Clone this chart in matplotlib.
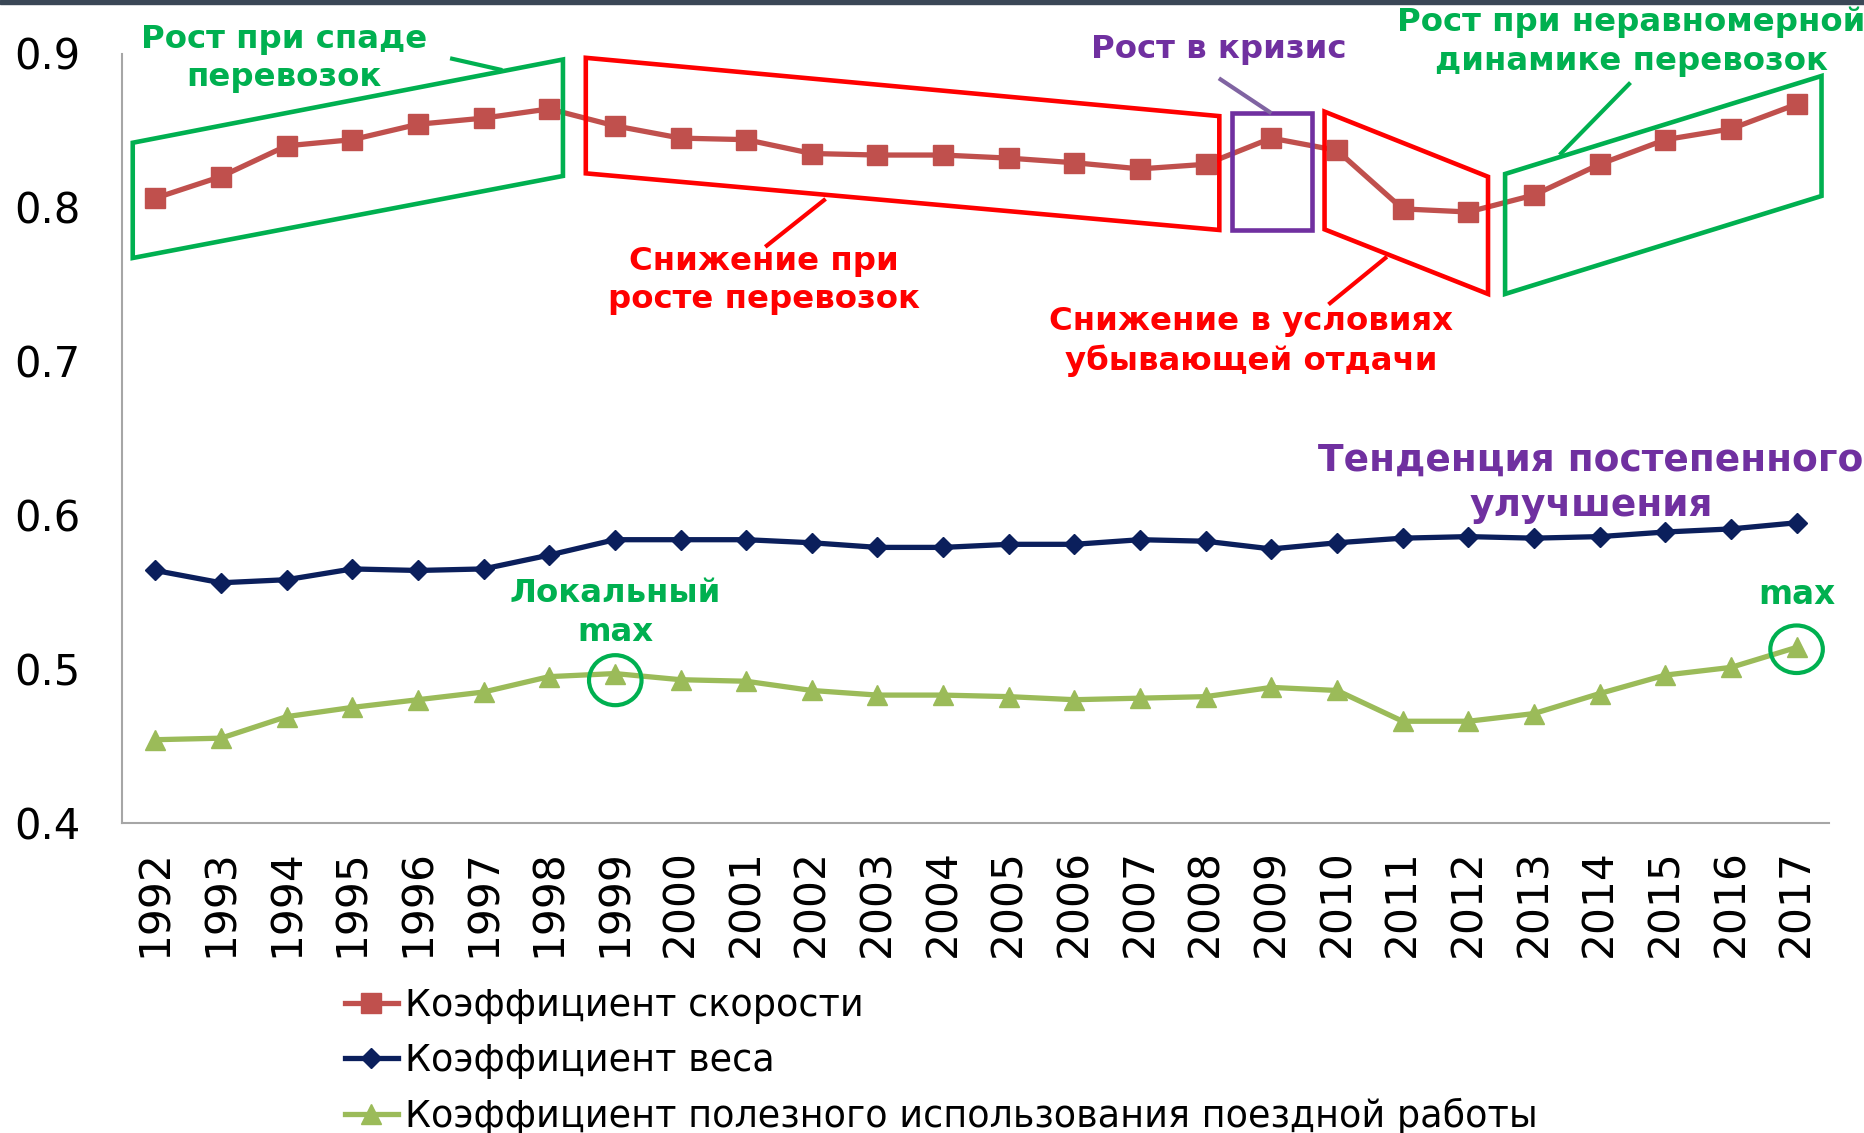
import matplotlib
matplotlib.use("Agg")
import matplotlib.pyplot as plt
from matplotlib.patches import Polygon, Ellipse, Rectangle

years = [str(y) for y in range(1992, 2018)]
speed = [0.806, 0.820, 0.840, 0.844, 0.854, 0.858, 0.864, 0.853, 0.845, 0.844,
         0.835, 0.834, 0.834, 0.832, 0.829, 0.825, 0.828, 0.845, 0.837, 0.799,
         0.797, 0.808, 0.828, 0.844, 0.851, 0.867]
weight = [0.564, 0.556, 0.558, 0.565, 0.564, 0.565, 0.574, 0.584, 0.584, 0.584,
          0.582, 0.579, 0.579, 0.581, 0.581, 0.584, 0.583, 0.578, 0.582, 0.585,
          0.586, 0.585, 0.586, 0.589, 0.591, 0.595]
usage = [0.454, 0.455, 0.469, 0.475, 0.480, 0.485, 0.495, 0.497, 0.493, 0.492,
         0.486, 0.483, 0.483, 0.482, 0.480, 0.481, 0.482, 0.488, 0.486, 0.466,
         0.466, 0.471, 0.484, 0.496, 0.501, 0.514]
series_names = ["Коэффициент скорости", "Коэффициент веса",
                "Коэффициент полезного использования поездной работы"]
yticks = [0.4, 0.5, 0.6, 0.7, 0.8, 0.9]

RED = "#C0504D"
NAVY = "#0B1F5C"
LGREEN = "#9BBB59"
AGREEN = "#00B050"
ARED = "#FF0000"
PURPLE = "#7030A0"

plt.rcParams['font.family'] = ['DejaVu Sans']

W, H = 1864, 1133
fig = plt.figure(figsize=(W / 100, H / 100), dpi=100)
fig.patches.append(Rectangle((0, 1 - 4 / H), 1, 4 / H, transform=fig.transFigure,
                             color="#3A4756", zorder=10))

ax = fig.add_axes([122.5 / W, 1 - 822.8 / H, (1829.4 - 122.5) / W, (822.8 - 53.5) / H])
x = list(range(len(years)))
ax.plot(x, speed, color=RED, lw=3.8, marker='s', ms=14, label=series_names[0], zorder=3)
ax.plot(x, weight, color=NAVY, lw=3.8, marker='D', ms=10, label=series_names[1], zorder=3)
ax.plot(x, usage, color=LGREEN, lw=3.8, marker='^', ms=15, label=series_names[2], zorder=3)

ax.set_xlim(-0.5, len(years) - 0.5)
ax.set_ylim(0.4, 0.9)
ax.set_yticks(yticks)
ax.set_yticklabels([f"{v:.1f}" for v in yticks], fontsize=30)
ax.set_xticks(x)
ax.set_xticklabels(years, rotation=90, fontsize=30.5)
ax.tick_params(axis='y', length=0, pad=30)
ax.tick_params(axis='x', length=0, pad=19)
for s in ['top', 'right']:
    ax.spines[s].set_visible(False)
for s in ['left', 'bottom']:
    ax.spines[s].set_color("#A6A6A6")
    ax.spines[s].set_linewidth(1.5)

def poly(pts, color, lw):
    ax.add_patch(Polygon(pts, closed=True, fill=False, edgecolor=color, lw=lw,
                         clip_on=False, zorder=4, joinstyle='miter'))

def seg(p0, p1, color, lw=3):
    ax.plot([p0[0], p1[0]], [p0[1], p1[1]], color=color, lw=lw, clip_on=False, zorder=4,
            solid_capstyle='butt')

poly([(-0.344, 0.842), (6.209, 0.8961), (6.209, 0.8204), (-0.344, 0.7671)], AGREEN, 3.3)
poly([(6.557, 0.8972), (16.207, 0.8593), (16.207, 0.7853), (6.557, 0.8221)], ARED, 3.3)
poly([(16.40, 0.8614), (17.62, 0.8614), (17.62, 0.7853), (16.40, 0.7853)], PURPLE, 3.3)
poly([(17.81, 0.8622), (20.30, 0.8199), (20.30, 0.7437), (17.81, 0.7857)], ARED, 3.3)
poly([(20.56, 0.8217), (25.38, 0.8854), (25.38, 0.8074), (20.56, 0.7437)], AGREEN, 3.3)

seg((4.49, 0.8969), (5.286, 0.8892), AGREEN)
seg((10.21, 0.8055), (9.29, 0.7743), ARED)
seg((16.20, 0.8839), (17.00, 0.8612), "#8064A2")
seg((18.76, 0.7679), (17.87, 0.7369), ARED)
seg((22.47, 0.8811), (21.39, 0.8341), AGREEN)

ax.add_patch(Ellipse((7.006, 0.4927), 0.80, 0.0325, fill=False, edgecolor=AGREEN,
                     lw=3, zorder=5, clip_on=False))
ax.add_patch(Ellipse((25.0, 0.5128), 0.80, 0.0309, fill=False, edgecolor=AGREEN,
                     lw=3, zorder=5, clip_on=False))

def label(xy, txt, color, size=23.3):
    ax.text(xy[0], xy[1], txt, color=color, fontsize=size, fontweight='bold',
            ha='center', va='center', linespacing=1.3, zorder=6, clip_on=False)

label((1.955, 0.8965), "Рост при спаде\nперевозок", AGREEN)
label((9.27, 0.7524), "Снижение при\nросте перевозок", ARED)
label((16.20, 0.9023), "Рост в кризис", PURPLE)
label((16.69, 0.7130), "Снижение в условиях\nубывающей отдачи", ARED)
label((22.48, 0.9077), "Рост при неравномерной\nдинамике перевозок", AGREEN)
label((21.87, 0.6206), "Тенденция постепенного\nулучшения", PURPLE, 27)
label((7.006, 0.5364), "Локальный\nmax", AGREEN)
label((25.0, 0.5484), "max", AGREEN, 23.5)

fig.legend(loc='upper left', bbox_to_anchor=(345 / W, 1 - 987 / H), frameon=False,
           fontsize=26.3, handlelength=1.45, handletextpad=0.2, labelspacing=0.5,
           borderpad=0, borderaxespad=0)

fig.savefig("out.png", dpi=100)
